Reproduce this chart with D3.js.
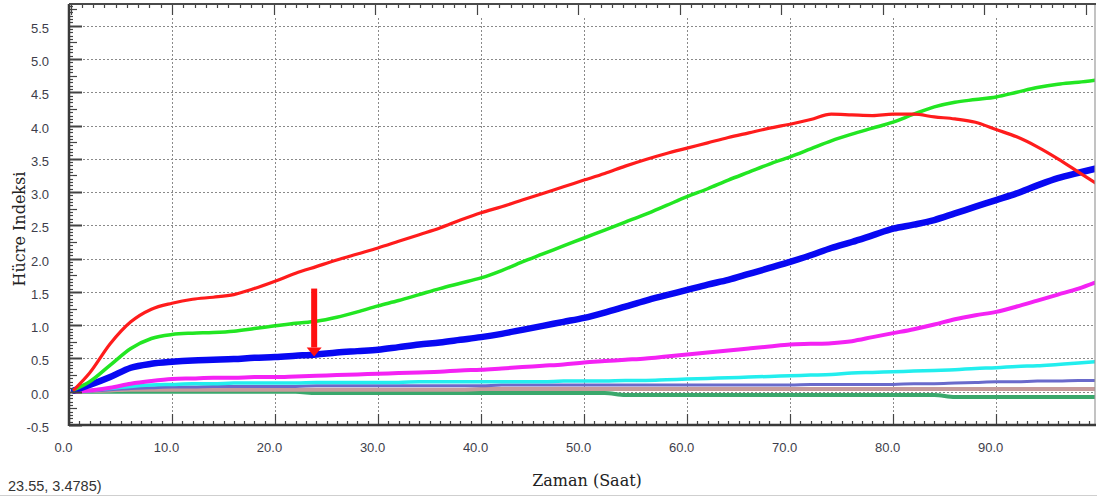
<!DOCTYPE html>
<html>
<head>
<meta charset="utf-8">
<script src="https://cdn.jsdelivr.net/npm/d3@7"></script>
<style>
  body { margin: 0; background: #fff; }
  svg { display: block; }
</style>
</head>
<body>
<svg id="chart" width="1097" height="497"></svg>
<script>
// Measurement times (hours)
const hours = [0.5, 2, 4, 6, 8, 10, 12, 14, 16, 18, 20, 22, 24, 26, 28, 30, 32, 34, 36, 38,
  40, 42, 44, 46, 48, 50, 52, 54, 56, 58, 60, 62, 64, 66, 68, 70, 72, 74, 76, 78,
  80, 82, 84, 86, 88, 90, 92, 94, 96, 98, 99.6];

// Cell index per well
const redSeries = [0.03, 0.28, 0.72, 1.05, 1.24, 1.33, 1.39, 1.42, 1.46, 1.55, 1.66, 1.78, 1.88, 1.98, 2.07, 2.16, 2.26, 2.36, 2.46, 2.58,
  2.69, 2.78, 2.88, 2.98, 3.08, 3.18, 3.28, 3.39, 3.49, 3.58, 3.66, 3.74, 3.82, 3.89, 3.96, 4.02, 4.09, 4.17, 4.16, 4.15,
  4.17, 4.17, 4.13, 4.10, 4.05, 3.94, 3.83, 3.68, 3.50, 3.30, 3.14];
const greenSeries = [0.03, 0.15, 0.40, 0.65, 0.80, 0.86, 0.88, 0.89, 0.91, 0.95, 0.99, 1.03, 1.06, 1.12, 1.20, 1.29, 1.37, 1.46, 1.55, 1.63,
  1.71, 1.82, 1.95, 2.07, 2.19, 2.31, 2.43, 2.55, 2.67, 2.80, 2.93, 3.05, 3.18, 3.30, 3.42, 3.53, 3.65, 3.77, 3.87, 3.96,
  4.05, 4.17, 4.28, 4.35, 4.39, 4.43, 4.50, 4.57, 4.62, 4.65, 4.68];
const blueSeries = [0.02, 0.10, 0.22, 0.36, 0.42, 0.45, 0.47, 0.48, 0.49, 0.51, 0.52, 0.54, 0.56, 0.59, 0.61, 0.63, 0.67, 0.71, 0.74, 0.78,
  0.82, 0.87, 0.93, 0.99, 1.05, 1.11, 1.19, 1.28, 1.37, 1.45, 1.53, 1.61, 1.68, 1.77, 1.86, 1.95, 2.05, 2.16, 2.25, 2.35,
  2.45, 2.51, 2.58, 2.68, 2.78, 2.88, 2.98, 3.10, 3.21, 3.29, 3.35];
const magentaSeries = [0.00, 0.02, 0.06, 0.12, 0.16, 0.19, 0.20, 0.21, 0.21, 0.22, 0.22, 0.23, 0.24, 0.25, 0.26, 0.27, 0.28, 0.29, 0.30, 0.32,
  0.33, 0.35, 0.37, 0.39, 0.41, 0.44, 0.46, 0.48, 0.50, 0.53, 0.56, 0.59, 0.62, 0.65, 0.68, 0.71, 0.72, 0.73, 0.76, 0.82,
  0.88, 0.94, 1.01, 1.09, 1.15, 1.20, 1.28, 1.37, 1.46, 1.55, 1.64];
const cyanSeries = [0.00, 0.02, 0.05, 0.08, 0.10, 0.11, 0.12, 0.12, 0.13, 0.13, 0.13, 0.13, 0.14, 0.14, 0.14, 0.14, 0.14, 0.15, 0.15, 0.15,
  0.15, 0.15, 0.15, 0.15, 0.16, 0.16, 0.16, 0.17, 0.17, 0.18, 0.19, 0.20, 0.21, 0.22, 0.23, 0.24, 0.25, 0.26, 0.28, 0.29,
  0.30, 0.31, 0.32, 0.33, 0.35, 0.36, 0.38, 0.39, 0.41, 0.43, 0.45];
const purpleSeries = [0.00, 0.01, 0.03, 0.05, 0.06, 0.07, 0.07, 0.08, 0.08, 0.08, 0.08, 0.08, 0.09, 0.09, 0.09, 0.09, 0.09, 0.09, 0.09, 0.09,
  0.09, 0.10, 0.10, 0.10, 0.10, 0.10, 0.10, 0.10, 0.10, 0.10, 0.10, 0.10, 0.10, 0.10, 0.10, 0.10, 0.11, 0.11, 0.11, 0.11,
  0.11, 0.12, 0.12, 0.13, 0.14, 0.15, 0.15, 0.16, 0.16, 0.17, 0.17];
const rosySeries = [0.00, 0.01, 0.02, 0.03, 0.03, 0.03, 0.03, 0.03, 0.03, 0.03, 0.03, 0.03, 0.03, 0.03, 0.03, 0.03, 0.03, 0.03, 0.03, 0.03,
  0.04, 0.04, 0.04, 0.04, 0.04, 0.04, 0.04, 0.04, 0.04, 0.04, 0.04, 0.04, 0.04, 0.04, 0.04, 0.04, 0.04, 0.04, 0.04, 0.04,
  0.04, 0.04, 0.04, 0.04, 0.04, 0.04, 0.04, 0.04, 0.04, 0.04, 0.04];
const seaGreenSeries = [0.00, 0.00, 0.00, 0.00, 0.00, 0.00, 0.00, 0.00, 0.00, 0.00, 0.00, 0.00, -0.02, -0.02, -0.02, -0.02, -0.02, -0.02, -0.02, -0.02,
  -0.02, -0.02, -0.02, -0.02, -0.02, -0.02, -0.02, -0.05, -0.05, -0.05, -0.05, -0.05, -0.05, -0.05, -0.05, -0.05, -0.05, -0.05, -0.05, -0.05,
  -0.05, -0.05, -0.05, -0.08, -0.08, -0.08, -0.08, -0.08, -0.08, -0.08, -0.08];

// Axis ticks and labels
const xTickLabels = [0, 10, 20, 30, 40, 50, 60, 70, 80, 90];
const yTickLabels = [-0.5, 0, 0.5, 1, 1.5, 2, 2.5, 3, 3.5, 4, 4.5, 5, 5.5];
const xTitle = "Zaman (Saat)";
const yTitle = "Hücre Indeksi";
const cursorReadout = "23.55, 3.4785)";

// Arrow pointing at the blue curve
const arrowHour = 23.8;
const arrowFrom = 1.55;
const arrowTo = 0.53;

// Drawing order: lowest curves first, red on top
const series = [
  { values: seaGreenSeries, color: "#3aa86c", width: 4 },
  { values: rosySeries, color: "#c79b9b", width: 4 },
  { values: purpleSeries, color: "#6a6acb", width: 3 },
  { values: cyanSeries, color: "#22eeee", width: 3.5 },
  { values: magentaSeries, color: "#f422f4", width: 4 },
  { values: blueSeries, color: "#0808f2", width: 6.5 },
  { values: greenSeries, color: "#22e622", width: 3.5 },
  { values: redSeries, color: "#ff1c1c", width: 3.2 }
];

const svg = d3.select("#chart");
const plot = { left: 69, right: 1095, top: 4, bottom: 425 };

const x = d3.scaleLinear().domain([0, 99.6]).range([plot.left, plot.right]);
const y = d3.scaleLinear().domain([-0.5, 5.5]).range([plot.bottom, 25.7]);
// secondary scale used by the top tick ruler
const xTop = d3.scaleLinear().domain([0, 100]).range([70.5, 1086]);

svg.append("defs").append("clipPath").attr("id", "plotClip")
  .append("rect")
  .attr("x", plot.left).attr("y", plot.top)
  .attr("width", plot.right - plot.left).attr("height", plot.bottom - plot.top);

// Dotted grid
const grid = svg.append("g").attr("stroke", "#8a8a8a").attr("stroke-width", 1).attr("stroke-dasharray", "2,2");
grid.selectAll("line.h").data(yTickLabels.filter(v => v > -0.5)).join("line")
  .attr("class", "h")
  .attr("x1", plot.left + 14).attr("x2", plot.right)
  .attr("y1", d => Math.round(y(d)) + 0.5).attr("y2", d => Math.round(y(d)) + 0.5);
grid.selectAll("line.v").data(xTickLabels.filter(v => v > 0)).join("line")
  .attr("class", "v")
  .attr("x1", d => Math.round(x(d)) + 0.5).attr("x2", d => Math.round(x(d)) + 0.5)
  .attr("y1", plot.top + 14).attr("y2", plot.bottom - 12);

// Curves
const line = d3.line().curve(d3.curveMonotoneX).x((d, i) => x(hours[i])).y(d => y(d));
const curves = svg.append("g").attr("clip-path", "url(#plotClip)");
curves.selectAll("path").data(series).join("path")
  .attr("d", s => line(s.values))
  .attr("fill", "none")
  .attr("stroke", s => s.color)
  .attr("stroke-width", s => s.width)
  .attr("stroke-linejoin", "round")
  .attr("stroke-linecap", "round");

// Arrow
const ax = x(arrowHour);
const headH = 9, headW = 15, shaftW = 6;
svg.append("rect")
  .attr("x", ax - shaftW / 2).attr("y", y(arrowFrom))
  .attr("width", shaftW).attr("height", y(arrowTo) - headH - y(arrowFrom))
  .attr("fill", "#ff1010");
svg.append("path")
  .attr("d", `M${ax - headW / 2},${y(arrowTo) - headH} L${ax + headW / 2},${y(arrowTo) - headH} L${ax},${y(arrowTo)} Z`)
  .attr("fill", "#ff1010");

// Frame
svg.append("line").attr("x1", plot.right).attr("x2", plot.right)
  .attr("y1", plot.top).attr("y2", plot.bottom).attr("stroke", "#9a9a9a").attr("stroke-width", 1.2);

// Inward tick marks
const ticks = svg.append("g").attr("stroke", "#444").attr("stroke-width", 1.2);
const yMinor = d3.range(-10, 117).map(k => k * 0.05);
ticks.selectAll("line.yt").data(yMinor).join("line")
  .attr("class", "yt")
  .attr("x1", plot.left)
  .attr("x2", d => {
    const k = Math.round(d * 20);
    return plot.left + (k % 10 === 0 ? 13 : (k % 5 === 0 ? 8 : 4));
  })
  .attr("y1", d => Math.round(y(d)) + 0.5).attr("y2", d => Math.round(y(d)) + 0.5)
  .attr("stroke-width", d => Math.round(d * 20) % 10 === 0 ? 2 : 1.2);

const xMinor = d3.range(0, 100, 1);
ticks.selectAll("line.xb").data(xMinor).join("line")
  .attr("class", "xb")
  .attr("x1", d => Math.round(x(d)) + 0.5).attr("x2", d => Math.round(x(d)) + 0.5)
  .attr("y1", plot.bottom)
  .attr("y2", d => plot.bottom - (d % 10 === 0 ? 11 : 4));

const topMinor = d3.range(0, 91).map(k => k * 10 / 9);
ticks.selectAll("line.xt").data(topMinor).join("line")
  .attr("class", "xt")
  .attr("x1", d => Math.round(xTop(d)) + 0.5).attr("x2", d => Math.round(xTop(d)) + 0.5)
  .attr("y1", plot.top)
  .attr("y2", (d, i) => plot.top + (i % 9 === 0 ? 11 : 4));

// Axis lines
svg.append("line").attr("x1", plot.left).attr("x2", plot.left)
  .attr("y1", plot.top).attr("y2", plot.bottom + 1).attr("stroke", "#3a3a3a").attr("stroke-width", 2.5);
svg.append("line").attr("x1", plot.left).attr("x2", plot.right + 1)
  .attr("y1", plot.bottom).attr("y2", plot.bottom).attr("stroke", "#3a3a3a").attr("stroke-width", 2.5);
svg.append("line").attr("x1", plot.left).attr("x2", plot.right + 1)
  .attr("y1", plot.top).attr("y2", plot.top).attr("stroke", "#4a4a4a").attr("stroke-width", 2.2);

// Tick labels via d3 axes
const fmt = v => v.toFixed(1);
const yAxis = svg.append("g")
  .attr("transform", `translate(${plot.left},0)`)
  .call(d3.axisLeft(y).tickValues(yTickLabels).tickFormat(fmt).tickSize(0).tickPadding(20));
yAxis.select(".domain").remove();
yAxis.selectAll("text")
  .attr("font-family", "'Liberation Sans', Arial, sans-serif")
  .attr("font-size", 13).attr("fill", "#3d3d4a").attr("dy", "0.5em");

const xAxis = svg.append("g")
  .attr("transform", `translate(0,${plot.bottom})`)
  .call(d3.axisBottom(x).tickValues(xTickLabels).tickFormat(fmt).tickSize(0).tickPadding(18));
xAxis.select(".domain").remove();
xAxis.selectAll("text")
  .attr("font-family", "'Liberation Sans', Arial, sans-serif")
  .attr("font-size", 13).attr("fill", "#3d3d4a").attr("dx", -6);

// Titles
svg.append("text")
  .attr("x", 587).attr("y", 486)
  .attr("text-anchor", "middle")
  .attr("font-family", "'DejaVu Serif', 'Liberation Serif', serif").attr("font-size", 16).attr("fill", "#222")
  .text(xTitle);
svg.append("text")
  .attr("transform", "translate(25,229) rotate(-90)")
  .attr("text-anchor", "middle")
  .attr("font-family", "'DejaVu Serif', 'Liberation Serif', serif").attr("font-size", 16).attr("fill", "#222")
  .text(yTitle);

// Cursor readout in the status strip
svg.append("text")
  .attr("x", 8).attr("y", 491)
  .attr("font-family", "'Liberation Sans', Arial, sans-serif")
  .attr("font-size", 14.5).attr("fill", "#333")
  .text(cursorReadout);
svg.append("line").attr("x1", 0).attr("x2", 1097).attr("y1", 495.5).attr("y2", 495.5)
  .attr("stroke", "#cfcfcf").attr("stroke-width", 1);
</script>
</body>
</html>
